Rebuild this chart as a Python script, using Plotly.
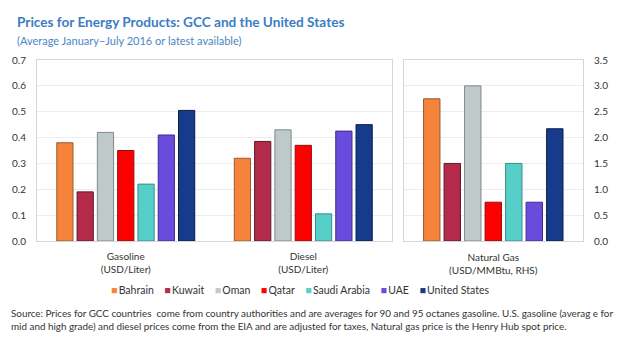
import plotly.graph_objects as go

countries = ["Bahrain", "Kuwait", "Oman", "Qatar", "Saudi Arabia", "UAE", "United States"]
colors = ["#F5833A", "#B32A4B", "#BFC9C9", "#FF0000", "#55CFC8", "#6A4CDC", "#163A8C"]
edge_colors = ["#9A5A2E", "#5E1A2A", "#7E8A8A", "#8E1010", "#3B8C88", "#3E2E8A", "#0B1E4A"]

fuel_categories = ["Gasoline<br>(USD/Liter)", "Diesel<br>(USD/Liter)"]
gas_category = ["Natural Gas<br>(USD/MMBtu, RHS)"]

gasoline = [0.38, 0.19, 0.42, 0.35, 0.22, 0.41, 0.505]
diesel = [0.32, 0.385, 0.43, 0.37, 0.105, 0.425, 0.45]
natural_gas = [2.75, 1.5, 3.0, 0.75, 1.5, 0.75, 2.17]

left_ticks = [0.0, 0.1, 0.2, 0.3, 0.4, 0.5, 0.6, 0.7]
right_ticks = [0.0, 0.5, 1.0, 1.5, 2.0, 2.5, 3.0, 3.5]

FONT = "Lato"
fig = go.Figure()
for i, c in enumerate(countries):
    fig.add_trace(go.Bar(
        x=fuel_categories, y=[gasoline[i], diesel[i]], name=c, showlegend=False,
        marker=dict(color=colors[i], line=dict(color=edge_colors[i], width=1)),
        xaxis="x", yaxis="y"))
    fig.add_trace(go.Bar(
        x=gas_category, y=[natural_gas[i]], name=c, showlegend=False,
        marker=dict(color=colors[i], line=dict(color=edge_colors[i], width=1)),
        xaxis="x2", yaxis="y2"))

W, H = 620, 355
L, R, T, B = 26, 25, 60, 114
pw = W - L - R
ph = H - T - B
d1 = [0, (396 - L) / pw]
d2 = [(408 - L) / pw, 1]

def px_x(x):
    return (x - L) / pw

def px_y(y):
    return (H - B - y) / ph

axis_line = "#D6D6D6"
grid = "#ECECEC"
tickfont = dict(family=FONT, size=10, color="#333333")

fig.update_layout(
    width=W, height=H,
    margin=dict(l=L, r=R, t=T, b=B),
    paper_bgcolor="white", plot_bgcolor="white",
    barmode="group", bargap=0.2, bargroupgap=0.2,
    font=dict(family=FONT, color="#333333"),
    xaxis=dict(domain=d1, showline=True, mirror=True, linecolor=axis_line,
               tickfont=tickfont, ticks="", anchor="y", ticklabelstandoff=6),
    yaxis=dict(range=[0, 0.7], tickvals=left_ticks, tickformat=".1f",
               showline=True, mirror=True, linecolor=axis_line,
               gridcolor=grid, tickfont=tickfont, ticks="", zeroline=False,
               anchor="x", ticklabelstandoff=8),
    xaxis2=dict(domain=d2, showline=True, mirror=True, linecolor=axis_line,
                tickfont=tickfont, ticks="", anchor="y2", ticklabelstandoff=7),
    yaxis2=dict(range=[0, 3.5], tickvals=right_ticks, tickformat=".1f",
                side="right", showline=True, mirror=True, linecolor=axis_line,
                gridcolor=grid, tickfont=tickfont, ticks="", zeroline=False,
                anchor="x2", ticklabelstandoff=8),
    showlegend=False,
)

# compact legend row (coloured squares + names), as in the original
legend_text = "\u2002\u2002".join(
    f'<span style="color:{col}">\u25A0</span>\u2009{name}' for name, col in zip(countries, colors))
fig.add_annotation(text=legend_text, xref="paper", yref="paper",
                   x=px_x(300), y=px_y(290), xanchor="center", yanchor="middle",
                   showarrow=False, font=dict(family=FONT, size=10.5, color="#333333"))

fig.add_annotation(text="<b>Prices for Energy Products: GCC and the United States</b>",
                   xref="paper", yref="paper", x=px_x(3), y=px_y(22),
                   xanchor="left", yanchor="middle", showarrow=False,
                   font=dict(family=FONT, size=13.6, color="#3B7DC4"))
fig.add_annotation(text="(Average January\u2013July 2016 or latest available)",
                   xref="paper", yref="paper", x=px_x(3), y=px_y(40),
                   xanchor="left", yanchor="middle", showarrow=False,
                   font=dict(family=FONT, size=11, color="#4A86C5"))
fig.add_annotation(text="Source: Prices for GCC countries  come from country authorities and are averages for 90 and 95 octanes gasoline. U.S. gasoline (averag e for",
                   xref="paper", yref="paper", x=px_x(-3), y=px_y(313),
                   xanchor="left", yanchor="middle", showarrow=False, align="left",
                   font=dict(family=FONT, size=9.85, color="#333333"))
fig.add_annotation(text="mid and high grade) and diesel prices come from the EIA and are adjusted for taxes, Natural gas price is the Henry Hub spot price.",
                   xref="paper", yref="paper", x=px_x(-3), y=px_y(326),
                   xanchor="left", yanchor="middle", showarrow=False, align="left",
                   font=dict(family=FONT, size=9.85, color="#333333"))

fig.write_html("out.html", config={"displayModeBar": False},
               post_script="document.body.style.margin='0';document.body.style.overflow='hidden';")
